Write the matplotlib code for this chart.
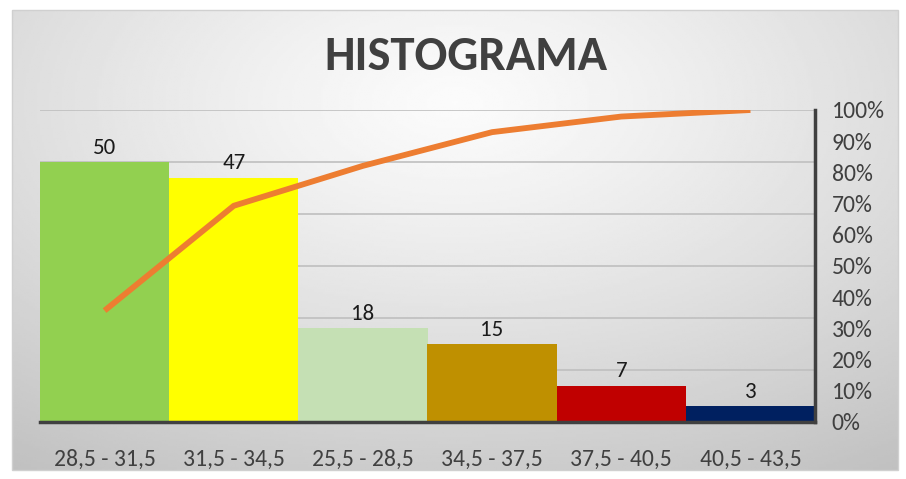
#!/usr/bin/env python3

from matplotlib import pyplot as plt
from matplotlib.patches import Rectangle
from matplotlib.ticker import PercentFormatter
from matplotlib import font_manager
import numpy as np

# chart data
categories = ['28,5 - 31,5', '31,5 - 34,5', '25,5 - 28,5', '34,5 - 37,5', '37,5 - 40,5', '40,5 - 43,5']
counts = [50, 47, 18, 15, 7, 3]
cumulative_pct = [35.7, 69.3, 82.1, 92.9, 97.9, 100.0]
bar_colors = ['#92D050', '#FFFF00', '#C5E0B4', '#BF9000', '#C00000', '#002060']

installed = {f.name for f in font_manager.fontManager.ttflist}
narrow = [f for f in ['Carlito', 'Liberation Sans Narrow', 'Lato', 'DejaVu Sans'] if f in installed]
plt.rcParams['font.family'] = narrow


def plot_histogram():
    fig = plt.figure(figsize=(9.06, 4.79), dpi=100)
    fig.patch.set_facecolor('white')

    # background gradient for the chart area
    bg = fig.add_axes([12 / 906, 1 - 470 / 479, 886 / 906, 460 / 479], zorder=0)
    yy, xx = np.mgrid[0:1:200j, 0:1:400j]
    r = np.sqrt(((xx - 0.5) * 1.1) ** 2 + ((yy - 0.2) * 1.0) ** 2)
    shade = 0.985 - 0.24 * np.clip(r, 0, 1) ** 1.2
    bg.imshow(shade, cmap='gray', vmin=0, vmax=1, aspect='auto', extent=[0, 1, 1, 0])
    bg.set_axis_off()
    fig.patches.append(Rectangle((12 / 906, 1 - 470 / 479), 886 / 906, 460 / 479,
                                 transform=fig.transFigure, fill=False,
                                 edgecolor='#d0d0d0', linewidth=1.0, zorder=5))

    ax = fig.add_axes([40 / 906, 1 - 422 / 479, 775 / 906, 312 / 479], zorder=2)
    ax.patch.set_alpha(0)
    x = np.arange(len(categories))
    bars = ax.bar(x, counts, width=1.0, color=bar_colors, zorder=2)
    for b, v in zip(bars, counts):
        ax.annotate(str(v), (b.get_x() + b.get_width() / 2, v), xytext=(0, 3),
                    textcoords='offset points', ha='center', va='bottom',
                    fontsize=16.5, color='#1a1a1a')
    ax.set_xlim(-0.5, len(categories) - 0.5)
    ax.set_ylim(0, 60)
    ax.set_yticks(np.arange(0, 61, 10))
    ax.grid(axis='y', color='#bfbfbf', linewidth=1.2, zorder=0)
    ax.set_axisbelow(True)
    ax.set_xticks(x)
    ax.set_xticklabels(categories, fontsize=17, color='#404040')
    ax.tick_params(axis='x', length=0, pad=19)
    for s in ['top', 'left', 'right']:
        ax.spines[s].set_visible(False)
    ax.spines['bottom'].set_color('#404040')
    ax.spines['bottom'].set_linewidth(2.5)

    ax2 = ax.twinx()
    ax.tick_params(axis='y', left=False, right=False, labelleft=False, labelright=False)
    ax2.plot(x, cumulative_pct, color='#ED7D31', linewidth=4.2, solid_capstyle='butt', zorder=3)
    ax2.set_ylim(0, 100)
    ax2.set_yticks(np.arange(0, 101, 10))
    ax2.yaxis.set_major_formatter(PercentFormatter(decimals=0))
    ax2.tick_params(axis='y', length=0, labelsize=17, labelcolor='#404040', pad=12)
    for t in ax2.get_yticklabels():
        t.set_horizontalalignment('left')
    for s in ['top', 'left', 'bottom']:
        ax2.spines[s].set_visible(False)
    ax2.spines['right'].set_color('#404040')
    ax2.spines['right'].set_linewidth(2.5)

    fig.text(466 / 906, 1 - 57 / 479, 'HISTOGRAMA', ha='center', va='center',
             fontsize=35, fontweight='bold', color='#404040')
    return fig


if __name__ == '__main__':
    fig = plot_histogram()
    plt.savefig('out.png', dpi=100)
